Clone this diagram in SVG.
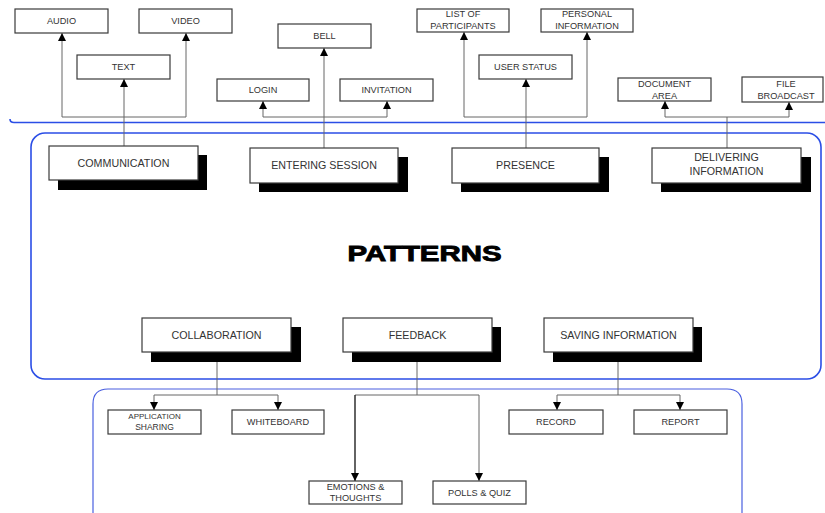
<svg xmlns="http://www.w3.org/2000/svg" width="825" height="513" viewBox="0 0 825 513">
  <style>
    .box { fill: #fff; stroke: #3a3a3a; stroke-width: 1.2; }
    .main { fill: #fff; stroke: #3a3a3a; stroke-width: 1.2; }
    .shadow { fill: #000; }
    .lbl { font-family: "Liberation Sans", Arial, sans-serif; font-size: 9.2px; fill: #333; text-anchor: middle; }
    .mlbl { font-family: "Liberation Sans", Arial, sans-serif; font-size: 10.7px; fill: #333; text-anchor: middle; }
    .wire { fill: none; stroke: #666; stroke-width: 1; }
    .blue { fill: none; stroke: #2b4ee6; stroke-width: 1.6; }
    .blue2 { fill: none; stroke: #4a5fe0; stroke-width: 1.2; }
  </style>
  <defs>
    <marker id="arrow" viewBox="0 0 8 10" refX="8" refY="5" markerWidth="8" markerHeight="10" markerUnits="userSpaceOnUse" orient="auto">
      <path d="M0,1 L8,5 L0,9 Z" fill="#000"/>
    </marker>
  </defs>
  <rect width="825" height="513" fill="#fff"/>

  <!-- section frames -->
  <g id="frames">
    <path class="blue" d="M10,119 Q10,122.5 14,122.5 H825"/>
    <rect class="blue" x="31" y="133" width="790" height="246" rx="14"/>
    <path class="blue2" d="M93,513 V404 Q93,389 108,389 H727 Q742,389 742,404 V513"/>
  </g>

  <!-- connectors -->
  <g id="connectors">
    <!-- communication -->
    <path class="wire" d="M124,146 V79" marker-end="url(#arrow)"/>
    <path class="wire" d="M62,117 H186"/>
    <path class="wire" d="M62,117 V33" marker-end="url(#arrow)"/>
    <path class="wire" d="M186,117 V33" marker-end="url(#arrow)"/>
    <!-- entering session -->
    <path class="wire" d="M324,148 V48" marker-end="url(#arrow)"/>
    <path class="wire" d="M263,117 H387"/>
    <path class="wire" d="M263,117 V101" marker-end="url(#arrow)"/>
    <path class="wire" d="M387,117 V101" marker-end="url(#arrow)"/>
    <!-- presence -->
    <path class="wire" d="M526,148 V79" marker-end="url(#arrow)"/>
    <path class="wire" d="M464,117 H587"/>
    <path class="wire" d="M464,117 V32" marker-end="url(#arrow)"/>
    <path class="wire" d="M587,117 V32" marker-end="url(#arrow)"/>
    <!-- delivering information -->
    <path class="wire" d="M727,148 V117"/>
    <path class="wire" d="M665,117 H789"/>
    <path class="wire" d="M665,117 V101" marker-end="url(#arrow)"/>
    <path class="wire" d="M789,117 V102" marker-end="url(#arrow)"/>
    <!-- collaboration -->
    <path class="wire" d="M217,362 V395 M154,395 H278"/>
    <path class="wire" d="M154,395 V410" marker-end="url(#arrow)"/>
    <path class="wire" d="M278,395 V410" marker-end="url(#arrow)"/>
    <!-- feedback -->
    <path class="wire" d="M417,362 V395 M355,395 H479"/>
    <path class="wire" d="M355,395 V481" style="stroke:#222;stroke-width:1.4" marker-end="url(#arrow)"/>
    <path class="wire" d="M479,395 V481" marker-end="url(#arrow)"/>
    <!-- saving information -->
    <path class="wire" d="M618,362 V395 M557,395 H680"/>
    <path class="wire" d="M557,395 V410" marker-end="url(#arrow)"/>
    <path class="wire" d="M680,395 V410" marker-end="url(#arrow)"/>
  </g>

  <!-- main pattern nodes -->
  <g id="communication">
    <rect class="shadow" x="58" y="155" width="149" height="35"/>
    <rect class="main" x="49" y="146" width="149" height="34"/>
    <text class="mlbl" x="123.5" y="167">COMMUNICATION</text>
  </g>
  <g id="entering-session">
    <rect class="shadow" x="259" y="157" width="149" height="35"/>
    <rect class="main" x="250" y="148" width="148" height="35"/>
    <text class="mlbl" x="324" y="169">ENTERING SESSION</text>
  </g>
  <g id="presence">
    <rect class="shadow" x="461" y="157" width="148" height="35"/>
    <rect class="main" x="452" y="148" width="147" height="35"/>
    <text class="mlbl" x="525.5" y="169">PRESENCE</text>
  </g>
  <g id="delivering-information">
    <rect class="shadow" x="661" y="157" width="150" height="35"/>
    <rect class="main" x="652" y="148" width="149" height="35"/>
    <text class="mlbl" x="726.5" y="161">DELIVERING</text>
    <text class="mlbl" x="726.5" y="175">INFORMATION</text>
  </g>
  <g id="collaboration">
    <rect class="shadow" x="151" y="327" width="150" height="35"/>
    <rect class="main" x="142" y="318" width="149" height="34"/>
    <text class="mlbl" x="216.5" y="338.5">COLLABORATION</text>
  </g>
  <g id="feedback">
    <rect class="shadow" x="352" y="327" width="149" height="35"/>
    <rect class="main" x="343" y="318" width="149" height="34"/>
    <text class="mlbl" x="417.5" y="338.5">FEEDBACK</text>
  </g>
  <g id="saving-information">
    <rect class="shadow" x="553" y="327" width="149" height="35"/>
    <rect class="main" x="544" y="318" width="149" height="34"/>
    <text class="mlbl" x="618.5" y="338.5">SAVING INFORMATION</text>
  </g>

  <!-- title -->
  <g id="patterns">
    <text x="424.5" y="261" font-family="'Liberation Sans', Arial, sans-serif" font-weight="bold" font-size="22" fill="#000" stroke="#000" stroke-width="0.9" text-anchor="middle" textLength="154" lengthAdjust="spacingAndGlyphs">PATTERNS</text>
  </g>

  <!-- sub-feature nodes: top -->
  <g id="audio">
    <rect class="box" x="15" y="9" width="93" height="24"/>
    <text class="lbl" x="61.5" y="24">AUDIO</text>
  </g>
  <g id="video">
    <rect class="box" x="139" y="9" width="93" height="24"/>
    <text class="lbl" x="185.5" y="24">VIDEO</text>
  </g>
  <g id="text">
    <rect class="box" x="77" y="55" width="93" height="24"/>
    <text class="lbl" x="123.5" y="70">TEXT</text>
  </g>
  <g id="bell">
    <rect class="box" x="278" y="24" width="93" height="24"/>
    <text class="lbl" x="324.5" y="39">BELL</text>
  </g>
  <g id="login">
    <rect class="box" x="217" y="79" width="92" height="22"/>
    <text class="lbl" x="263" y="93">LOGIN</text>
  </g>
  <g id="invitation">
    <rect class="box" x="340" y="79" width="93" height="22"/>
    <text class="lbl" x="386.5" y="93">INVITATION</text>
  </g>
  <g id="list-of-participants">
    <rect class="box" x="417" y="9" width="92" height="23"/>
    <text class="lbl" x="463" y="17">LIST OF</text>
    <text class="lbl" x="463" y="28.5">PARTICIPANTS</text>
  </g>
  <g id="personal-information">
    <rect class="box" x="541" y="9" width="92" height="23"/>
    <text class="lbl" x="587" y="17">PERSONAL</text>
    <text class="lbl" x="587" y="28.5">INFORMATION</text>
  </g>
  <g id="user-status">
    <rect class="box" x="479" y="55" width="93" height="24"/>
    <text class="lbl" x="525.5" y="70">USER STATUS</text>
  </g>
  <g id="document-area">
    <rect class="box" x="618" y="78" width="93" height="23"/>
    <text class="lbl" x="664.5" y="87">DOCUMENT</text>
    <text class="lbl" x="664.5" y="98.5">AREA</text>
  </g>
  <g id="file-broadcast">
    <rect class="box" x="742" y="77" width="81" height="25"/>
    <text class="lbl" x="786" y="87">FILE</text>
    <text class="lbl" x="786" y="99">BROADCAST</text>
  </g>

  <!-- sub-feature nodes: bottom -->
  <g id="application-sharing">
    <rect class="box" x="108" y="410" width="93" height="24"/>
    <text class="lbl" x="154.5" y="419" style="font-size:8px">APPLICATION</text>
    <text class="lbl" x="154.5" y="430" style="font-size:8.5px">SHARING</text>
  </g>
  <g id="whiteboard">
    <rect class="box" x="232" y="410" width="92" height="24"/>
    <text class="lbl" x="278" y="425">WHITEBOARD</text>
  </g>
  <g id="emotions-thoughts">
    <rect class="box" x="309" y="481" width="93" height="23"/>
    <text class="lbl" x="355.5" y="489.5">EMOTIONS &amp;</text>
    <text class="lbl" x="355.5" y="501">THOUGHTS</text>
  </g>
  <g id="polls-quiz">
    <rect class="box" x="433" y="481" width="93" height="23"/>
    <text class="lbl" x="479.5" y="495.5">POLLS &amp; QUIZ</text>
  </g>
  <g id="record">
    <rect class="box" x="509" y="410" width="94" height="24"/>
    <text class="lbl" x="556" y="425">RECORD</text>
  </g>
  <g id="report">
    <rect class="box" x="634" y="410" width="93" height="24"/>
    <text class="lbl" x="680.5" y="425">REPORT</text>
  </g>
</svg>
